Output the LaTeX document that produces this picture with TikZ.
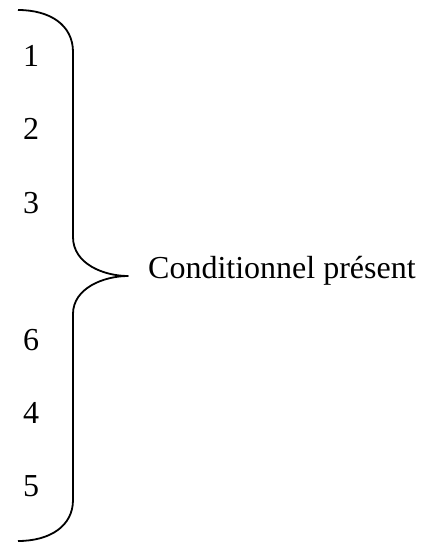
\documentclass[tikz,border=0pt]{standalone}
\usepackage{fontspec}
\setmainfont{Liberation Serif}
\begin{document}
\begin{tikzpicture}[x=1pt,y=-1pt,
  lbl/.style={anchor=base,inner sep=0pt,font=\fontsize{32}{38}\selectfont},
  bracestyle/.style={line width=1.8pt,line join=round}]
\useasboundingbox (0,0) rectangle (440,545);
\node[lbl] (n1) at (31,67) {1};
\node[lbl] (n2) at (31,140) {2};
\node[lbl] (n3) at (31,213) {3};
\node[lbl] (n6) at (31,350) {6};
\node[lbl] (n4) at (31,423) {4};
\node[lbl] (n5) at (31,496) {5};
\node[lbl,anchor=base west] (cp) at (148,278) {Conditionnel présent};
\draw[bracestyle] (18,10) .. controls (50,10) and (73,25) .. (73,52)
  -- (73,237) .. controls (73,264) and (104,276) .. (128,276)
  .. controls (104,276) and (73,288) .. (73,314)
  -- (73,500) .. controls (73,526) and (50,541) .. (18,541);
\end{tikzpicture}
\end{document}
